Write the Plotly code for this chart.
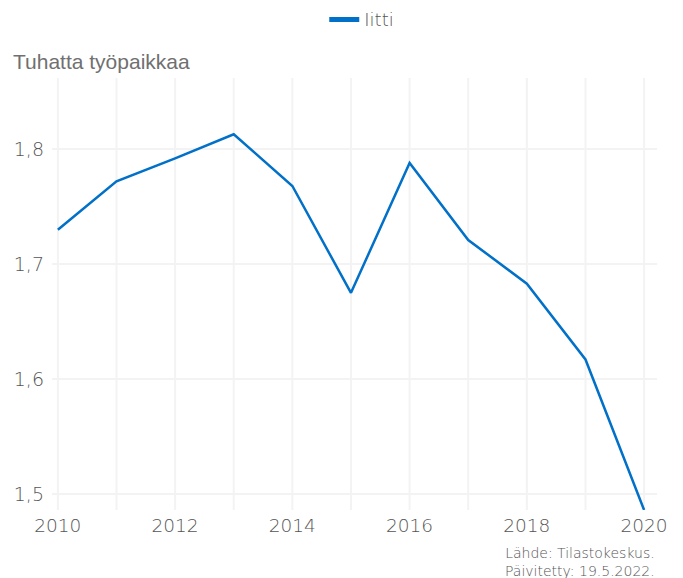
import plotly.graph_objects as go

vuodet = [2010, 2011, 2012, 2013, 2014, 2015, 2016, 2017, 2018, 2019, 2020]
tyopaikat = [1.730, 1.772, 1.792, 1.813, 1.768, 1.675, 1.788, 1.721, 1.683, 1.617, 1.486]
kunta = "Iitti"
y_tikit = [1.5, 1.6, 1.7, 1.8]
x_tikit = [2010, 2012, 2014, 2016, 2018, 2020]

VARI = "#0070c8"
HARMAA = "#707070"
OHUT = "#555555"
RUUTU = "#f3f3f3"
FONTTI = "'DejaVu Sans', sans-serif"

fig = go.Figure()

fig.add_trace(
    go.Scatter(
        x=vuodet,
        y=tyopaikat,
        mode="lines",
        name=kunta,
        line=dict(color=VARI, width=2.5),
        showlegend=False,
        cliponaxis=False,
    )
)
# vain selitettä varten
fig.add_trace(
    go.Scatter(
        x=[None],
        y=[None],
        mode="lines",
        name=kunta,
        line=dict(color=VARI, width=5),
    )
)

fig.update_layout(
    width=683,
    height=578,
    plot_bgcolor="white",
    paper_bgcolor="white",
    separators=", ",
    font=dict(family=FONTTI, color=OHUT, size=18, weight=200),
    margin=dict(l=52, r=26, t=78, b=68, autoexpand=False),
    legend=dict(
        orientation="h",
        x=0.512,
        xanchor="center",
        y=1.135,
        yanchor="middle",
        font=dict(size=18, color=OHUT, weight=200),
        itemwidth=30,
    ),
    xaxis=dict(
        range=[2009.9, 2020.22],
        tickvals=x_tikit,
        showgrid=False,
        zeroline=False,
        ticks="",
        automargin=False,
        ticklabelstandoff=2,
        tickfont=dict(size=18.5, color=OHUT, weight=200),
    ),
    yaxis=dict(
        range=[1.486, 1.862],
        tickvals=y_tikit,
        tickformat=".1f",
        showgrid=True,
        gridcolor=RUUTU,
        gridwidth=2,
        zeroline=False,
        ticks="",
        automargin=False,
        ticklabelstandoff=7,
        tickfont=dict(size=19, color=OHUT, weight=200),
    ),
)

# pystysuuntainen ruudukko joka vuodelle
for v in vuodet:
    fig.add_shape(
        type="line",
        xref="x",
        yref="paper",
        x0=v,
        x1=v,
        y0=0,
        y1=1,
        line=dict(color=RUUTU, width=2),
        layer="below",
    )

fig.add_annotation(
    text="Tuhatta työpaikkaa",
    xref="paper",
    yref="paper",
    x=-0.068,
    y=1.0,
    xanchor="left",
    yanchor="bottom",
    yshift=3,
    showarrow=False,
    font=dict(family="Liberation Sans, Arial, sans-serif", size=21, color=HARMAA, weight=400),
)

fig.add_annotation(
    text="Lähde: Tilastokeskus.<br>Päivitetty: 19.5.2022.",
    xref="paper",
    yref="paper",
    x=1.0,
    y=0,
    xanchor="right",
    yanchor="top",
    yshift=-33,
    align="right",
    showarrow=False,
    font=dict(size=14, color=OHUT, weight=200),
)

fig.write_html(
    "out.html",
    config={"displayModeBar": False},
    post_script="document.body.style.margin='0';",
)
